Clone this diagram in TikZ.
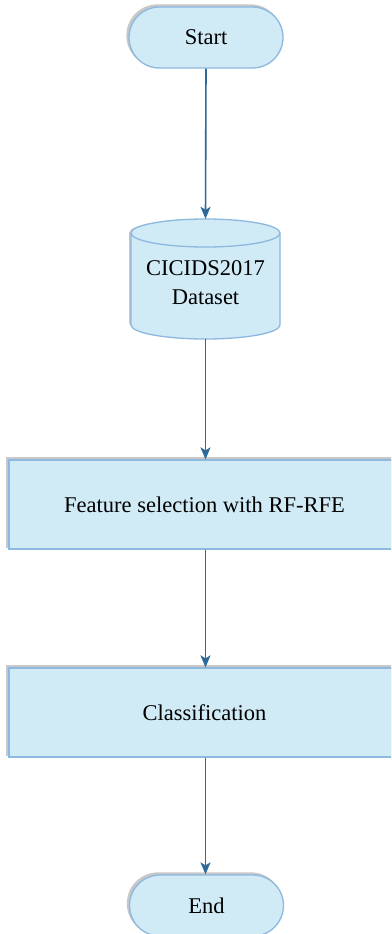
\documentclass[tikz,border=0pt]{standalone}
\usepackage{fontspec}
\setmainfont{Liberation Serif}
\usetikzlibrary{arrows.meta,shapes.misc}
\definecolor{boxfill}{HTML}{D0EAF6}
\definecolor{boxline}{HTML}{8DB8E0}
\definecolor{arrowc}{HTML}{2E6A99}
\definecolor{shadowc}{HTML}{C8C8C8}
\tikzset{
  txt/.style={font=\fontsize{22.5}{29}\selectfont, text=black, align=center},
  boxstyle/.style={draw=boxline, fill=boxfill, line width=1.3pt},
  shadowed/.style={preaction={fill=shadowc, draw=shadowc, line width=1.3pt, transform canvas={xshift=-2pt, yshift=2pt}}},
  terminal/.style={rounded rectangle, boxstyle, shadowed, txt, minimum width=154pt, minimum height=61pt, inner sep=0pt},
  procbox/.style={rectangle, boxstyle, shadowed, txt, minimum width=391pt, minimum height=89pt, inner sep=0pt},
  flow/.style={draw=arrowc, line width=1.6pt, -{Stealth[length=12pt,width=10pt,inset=3pt]}}
}
\begin{document}
\begin{tikzpicture}[x=1pt,y=1pt]
\useasboundingbox (0,0) rectangle (391,-934);
\clip (0,0) rectangle (391,-934);
\fill[white] (0,0) rectangle (391,-934);
% Start
\node[terminal] (start) at (206,-37.5) {Start};
% Cylinder (dataset)
\fill[shadowc] (129,-233) -- (129,-323) arc[start angle=180,end angle=360,x radius=74.5,y radius=14] -- (278,-233) arc[start angle=0,end angle=180,x radius=74.5,y radius=14] -- cycle;
\filldraw[boxstyle] (131,-233) -- (131,-325) arc[start angle=180,end angle=360,x radius=74.5,y radius=14] -- (280,-233) arc[start angle=0,end angle=180,x radius=74.5,y radius=14] -- cycle;
\draw[draw=boxline, line width=1.3pt] (131,-233) arc[start angle=180,end angle=360,x radius=74.5,y radius=14];
\node[minimum width=149pt, minimum height=120pt, inner sep=0pt] (db) at (205.5,-279) {};
\node[txt] (dbtext) at (205.5,-283) {CICIDS2017\\Dataset};
% Process boxes
\node[procbox] (fs) at (204.5,-504.5) {Feature selection with RF-RFE};
\node[procbox] (cls) at (204.5,-712.5) {Classification};
% End
\node[terminal] (end) at (206.5,-905.5) {End};
% Connectors
\draw[flow] (start.south) -- (db.north);
\draw[flow] (db.south) -- (fs.north -| db.south);
\draw[flow] (fs.south -| db.south) -- (cls.north -| db.south);
\draw[flow] (cls.south -| db.south) -- (end.north -| db.south);
\end{tikzpicture}
\end{document}
